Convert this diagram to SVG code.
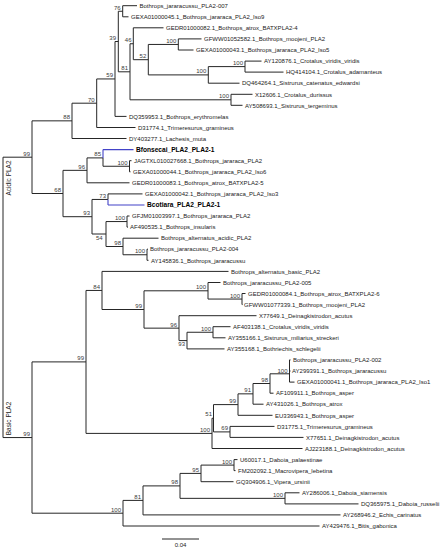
<svg xmlns="http://www.w3.org/2000/svg" width="443" height="550" viewBox="0 0 443 550">
<style>
.br{fill:none;stroke:#262626;stroke-width:1}
.blue{fill:none;stroke:#4343c8;stroke-width:1.1}
text{font-family:"Liberation Sans",Arial,Helvetica,sans-serif}
.lf{font-size:6px;fill:#222}
.bd{font-size:6.6px;font-weight:bold;fill:#000}
.bs{font-size:6px;fill:#3a3a3a;text-anchor:end}
.grp{font-size:6.5px;fill:#222;text-anchor:middle}
.sc{font-size:6px;fill:#222;text-anchor:middle}
</style>
<rect width="443" height="550" fill="#fff"/>
<g id="connectors">
<path class="br" d="M3,157.2V437.55M3,157.2H32M3,437.55H32
M32,120.85V193.5M32,120.85H72M32,193.5H63
M72,103.2V138.5M72,103.2H96.7M72,138.5H126.5
M96.7,78.95V127.5M96.7,78.95H115M96.7,127.5H135.5
M115,41.5V116.4M115,41.5H118.3M115,116.4H126.5
M118.3,11.25V71.8M118.3,11.25H122.7M118.3,71.8H130
M122.7,5.7V16.8M122.7,5.7H137M122.7,16.8H128.5
M130,43.75V99.8M130,43.75H133.3M130,99.8H231
M133.3,27.8V59.7M133.3,27.8H163.5M133.3,59.7H148.3
M148.3,44.45V74.9M148.3,44.45H178.3M148.3,74.9H208.3
M178.3,38.9V50M178.3,38.9H201.5M178.3,50H193.5
M208.3,66.6V83.2M208.3,66.6H245M208.3,83.2H239.5
M245,61.1V72.1M245,61.1H261.5M245,72.1H283.5
M231,94.3V105.3M231,94.3H252.5M231,105.3H242.5
M63,170.35V216.7M63,170.35H87M63,216.7H92
M87,157.9V182.8M87,157.9H103M87,182.8H129.5
M103,157.9V166.25M103,166.25H129.5
M129.5,160.7V171.8M129.5,160.7H131.5M129.5,171.8H130.5
M92,199.45V234M92,199.45H108M92,234H106
M108,193.9V199.45M108,193.9H142.5
M106,221.55V246.5M106,221.55H127M106,246.5H123
M127,216V227.1M127,216H129.5M127,227.1H128
M123,238.2V254.75M123,238.2H158.5M123,254.75H147
M147,249.2V260.3M147,249.2H148M147,260.3H148.5
M32,361.9V513.2M32,361.9H86M32,513.2H123
M86,290.45V433.4M86,290.45H102M86,433.4H212
M102,271.4V309.5M102,271.4H228.5M102,309.5H144
M144,290.8V328.15M144,290.8H208M144,328.15H179
M208,282.5V299.05M208,282.5H220.5M208,299.05H242
M242,293.5V304.6M242,293.5H245.5M242,304.6H242.5
M179,315.7V340.6M179,315.7H256.5M179,340.6H187
M187,332.25V348.9M187,332.25H213M187,348.9H224.5
M213,326.7V337.8M213,326.7H230.5M213,337.8H225.5
M212,418.25V448.5M212,418.25H213.5M212,448.5H302.5
M213.5,404.6V431.9M213.5,404.6H238M213.5,431.9H230
M230,426.4V437.4M230,426.4H274.5M230,437.4H303.5
M238,393.85V415.3M238,393.85H253M238,415.3H272.5
M253,383.5V404.2M253,383.5H270M253,404.2H263.5
M270,373.8V393.2M270,373.8H289.5M270,393.2H273.5
M289.5,359.9V382.1M289.5,359.9H290.5M289.5,371H290.5M289.5,382.1H294.5
M123,500.4V526M123,500.4H143M123,526H319.5
M143,485.9V514.9M143,485.9H180M143,514.9H340.5
M180,473.4V498.35M180,473.4H201M180,498.35H285
M201,465.1V481.7M201,465.1H234M201,481.7H233.5
M234,459.6V470.6M234,459.6H237.5M234,470.6H235.5
M285,492.8V503.9M285,492.8H299.5M285,503.9H358.5"/>
<path class="blue" d="M103,149.6V157.9M103,149.6H133.5M108,199.45V205M108,205H144.5"/>
</g>
<g id="leaves">
<g id="leaf-1"><text class="lf" x="139.5" y="7.9">Bothrops_jararacussu_PLA2-007</text></g>
<g id="leaf-2"><text class="lf" x="131" y="19">GEXA01000045.1_Bothrops_jararaca_PLA2_Iso9</text></g>
<g id="leaf-3"><text class="lf" x="166" y="30">GEDR01000082.1_Bothrops_atrox_BATXPLA2-4</text></g>
<g id="leaf-4"><text class="lf" x="204" y="41.1">GFWW01052582.1_Bothrops_moojeni_PLA2</text></g>
<g id="leaf-5"><text class="lf" x="196" y="52.2">GEXA01000043.1_Bothrops_jararaca_PLA2_Iso5</text></g>
<g id="leaf-6"><text class="lf" x="264" y="63.3">AY120876.1_Crotalus_viridis_viridis</text></g>
<g id="leaf-7"><text class="lf" x="286" y="74.3">HQ414104.1_Crotalus_adamanteus</text></g>
<g id="leaf-8"><text class="lf" x="242" y="85.4">DQ464264.1_Sistrurus_catenatus_edwardsi</text></g>
<g id="leaf-9"><text class="lf" x="255" y="96.5">X12606.1_Crotalus_durissus</text></g>
<g id="leaf-10"><text class="lf" x="245" y="107.5">AY508693.1_Sistrurus_tergeminus</text></g>
<g id="leaf-11"><text class="lf" x="129" y="118.6">DQ359953.1_Bothrops_erythromelas</text></g>
<g id="leaf-12"><text class="lf" x="138" y="129.7">D31774.1_Trimeresurus_gramineus</text></g>
<g id="leaf-13"><text class="lf" x="129" y="140.7">DY403277.1_Lachesis_muta</text></g>
<g id="leaf-14"><text class="bd" x="136" y="151.9">Bfonsecai_PLA2_PLA2-1</text></g>
<g id="leaf-15"><text class="lf" x="134" y="162.9">JAGTXL010027668.1_Bothrops_jararaca_PLA2</text></g>
<g id="leaf-16"><text class="lf" x="133" y="174">GEXA01000044.1_Bothrops_jararaca_PLA2_Iso6</text></g>
<g id="leaf-17"><text class="lf" x="132" y="185">GEDR01000083.1_Bothrops_atrox_BATXPLA2-5</text></g>
<g id="leaf-18"><text class="lf" x="145" y="196.1">GEXA01000042.1_Bothrops_jararaca_PLA2_Iso3</text></g>
<g id="leaf-19"><text class="bd" x="147" y="207.3">Bcotiara_PLA2_PLA2-1</text></g>
<g id="leaf-20"><text class="lf" x="132" y="218.2">GFJM01003997.1_Bothrops_jararaca_PLA2</text></g>
<g id="leaf-21"><text class="lf" x="130" y="229.3">AF490535.1_Bothrops_insularis</text></g>
<g id="leaf-22"><text class="lf" x="161" y="240.4">Bothrops_alternatus_acidic_PLA2</text></g>
<g id="leaf-23"><text class="lf" x="150" y="251.4">Bothrops_jararacussu_PLA2-004</text></g>
<g id="leaf-24"><text class="lf" x="151" y="262.5">AY145836.1_Bothrops_jararacussu</text></g>
<g id="leaf-25"><text class="lf" x="231" y="273.6">Bothrops_alternatus_basic_PLA2</text></g>
<g id="leaf-26"><text class="lf" x="223" y="284.7">Bothrops_jararacussu_PLA2-005</text></g>
<g id="leaf-27"><text class="lf" x="248" y="295.7">GEDR01000084.1_Bothrops_atrox_BATXPLA2-6</text></g>
<g id="leaf-28"><text class="lf" x="244" y="306.8">GFWW01077339.1_Bothrops_moojeni_PLA2</text></g>
<g id="leaf-29"><text class="lf" x="259" y="317.9">X77649.1_Deinagkistrodon_acutus</text></g>
<g id="leaf-30"><text class="lf" x="233" y="328.9">AF403138.1_Crotalus_viridis_viridis</text></g>
<g id="leaf-31"><text class="lf" x="228" y="340">AY355166.1_Sistrurus_miliarius_streckeri</text></g>
<g id="leaf-32"><text class="lf" x="227" y="351.1">AY355168.1_Bothriechis_schlegelii</text></g>
<g id="leaf-33"><text class="lf" x="293" y="362.1">Bothrops_jararacussu_PLA2-002</text></g>
<g id="leaf-34"><text class="lf" x="292" y="373.2">AY299391.1_Bothrops_jararacussu</text></g>
<g id="leaf-35"><text class="lf" x="297" y="384.3">GEXA01000041.1_Bothrops_jararaca_PLA2_Iso1</text></g>
<g id="leaf-36"><text class="lf" x="276" y="395.4">AF109911.1_Bothrops_asper</text></g>
<g id="leaf-37"><text class="lf" x="266" y="406.4">AY431026.1_Bothrops_atrox</text></g>
<g id="leaf-38"><text class="lf" x="275" y="417.5">EU336943.1_Bothrops_asper</text></g>
<g id="leaf-39"><text class="lf" x="277" y="428.6">D31775.1_Trimeresurus_gramineus</text></g>
<g id="leaf-40"><text class="lf" x="306" y="439.6">X77651.1_Deinagkistrodon_acutus</text></g>
<g id="leaf-41"><text class="lf" x="305" y="450.7">AJ223188.1_Deinagkistrodon_acutus</text></g>
<g id="leaf-42"><text class="lf" x="240" y="461.8">U60017.1_Daboia_palaestinae</text></g>
<g id="leaf-43"><text class="lf" x="238" y="472.8">FM202092.1_Macrovipera_lebetina</text></g>
<g id="leaf-44"><text class="lf" x="236" y="483.9">GQ304906.1_Vipera_ursinii</text></g>
<g id="leaf-45"><text class="lf" x="302" y="495">AY286006.1_Daboia_siamensis</text></g>
<g id="leaf-46"><text class="lf" x="361" y="506.1">DQ365975.1_Daboia_russelii</text></g>
<g id="leaf-47"><text class="lf" x="343" y="517.1">AY268946.2_Echis_carinatus</text></g>
<g id="leaf-48"><text class="lf" x="322" y="528.2">AY429476.1_Bitis_gabonica</text></g>
</g>
<g id="internal-nodes">
<g id="n76"><text class="bs" x="120.7" y="9.6">76</text></g>
<g id="n39"><text class="bs" x="116" y="40">39</text></g>
<g id="n59"><text class="bs" x="113" y="77.4">59</text></g>
<g id="n70"><text class="bs" x="94.7" y="101.7">70</text></g>
<g id="n88"><text class="bs" x="70" y="119.3">88</text></g>
<g id="n46"><text class="bs" x="131.5" y="42.2">46</text></g>
<g id="n52"><text class="bs" x="146.3" y="58.2">52</text></g>
<g id="n100a"><text class="bs" x="176.3" y="43">100</text></g>
<g id="n100b"><text class="bs" x="206.3" y="73.4">100</text></g>
<g id="n100crot"><text class="bs" x="243" y="65.1">100</text></g>
<g id="n81"><text class="bs" x="128" y="70.3">81</text></g>
<g id="n100c"><text class="bs" x="229" y="98.3">100</text></g>
<g id="nAcidic99"><text class="bs" x="30" y="155.7">99</text></g>
<g id="n85"><text class="bs" x="101" y="156.4">85</text></g>
<g id="n100d"><text class="bs" x="127.5" y="164.7">100</text></g>
<g id="n96"><text class="bs" x="85" y="168.8">96</text></g>
<g id="n68"><text class="bs" x="61" y="192">68</text></g>
<g id="n73"><text class="bs" x="106" y="197.9">73</text></g>
<g id="n93"><text class="bs" x="90" y="214.6">93</text></g>
<g id="n100e"><text class="bs" x="125" y="220">100</text></g>
<g id="n54"><text class="bs" x="102.6" y="240">54</text></g>
<g id="n98a"><text class="bs" x="121" y="245">98</text></g>
<g id="n100f"><text class="bs" x="145" y="253.2">100</text></g>
<g id="nBasic99"><text class="bs" x="30" y="436">99</text></g>
<g id="n99x"><text class="bs" x="84" y="360.4">99</text></g>
<g id="n84"><text class="bs" x="100" y="288.9">84</text></g>
<g id="n99b"><text class="bs" x="142" y="308">99</text></g>
<g id="n100_208"><text class="bs" x="206" y="289.3">100</text></g>
<g id="n100_242"><text class="bs" x="240" y="297.5">100</text></g>
<g id="n96b"><text class="bs" x="177" y="326.6">96</text></g>
<g id="n93b"><text class="bs" x="185" y="346.2">93</text></g>
<g id="n100_213"><text class="bs" x="211" y="330.7">100</text></g>
<g id="n100j"><text class="bs" x="287.5" y="372.6">100</text></g>
<g id="n98b"><text class="bs" x="268" y="382">98</text></g>
<g id="n91"><text class="bs" x="251" y="392.3">91</text></g>
<g id="n99c"><text class="bs" x="236" y="403.1">99</text></g>
<g id="n51"><text class="bs" x="212" y="415.8">51</text></g>
<g id="n100k"><text class="bs" x="210" y="431.9">100</text></g>
<g id="n69"><text class="bs" x="228" y="430.4">69</text></g>
<g id="n100i"><text class="bs" x="121" y="511.7">100</text></g>
<g id="n81b"><text class="bs" x="141" y="498.9">81</text></g>
<g id="n98c"><text class="bs" x="178" y="484.4">98</text></g>
<g id="n95"><text class="bs" x="199" y="471.9">95</text></g>
<g id="n100g"><text class="bs" x="232" y="463.6">100</text></g>
<g id="n100h"><text class="bs" x="283" y="496.8">100</text></g>
</g>
<g id="group-labels">
<text class="grp" transform="translate(11,178) rotate(-90)">Acidic PLA2</text>
<text class="grp" transform="translate(11,418.5) rotate(-90)">Basic PLA2</text>
</g>
<g id="scale-bar">
<path class="br" d="M162,539H199"/>
<text class="sc" x="180.5" y="547">0.04</text>
</g>
</svg>
